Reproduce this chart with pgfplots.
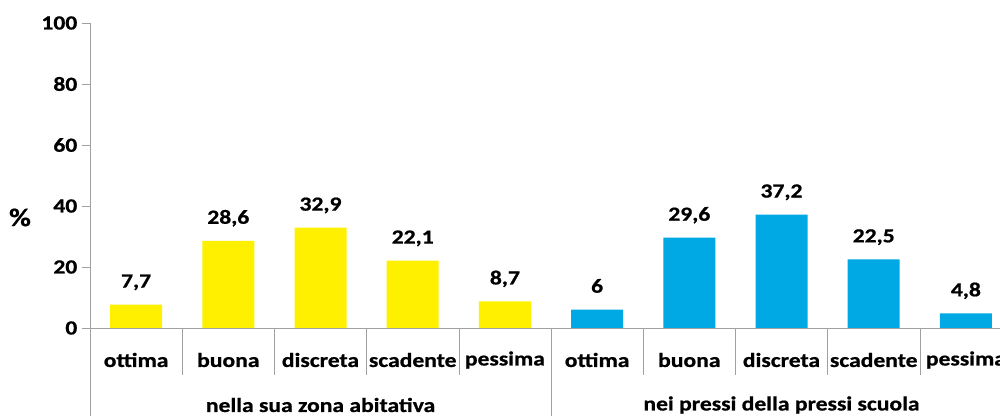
\documentclass[border=0pt]{standalone}
\usepackage{fontspec}
\setmainfont{Carlito}[FakeStretch=1.18, BoldFeatures={FakeBold=0.8}]
\usepackage{pgfplots}
\pgfplotsset{compat=1.18}
\definecolor{ybarc}{RGB}{255,240,0}
\definecolor{bbarc}{RGB}{0,168,228}
\definecolor{axgray}{RGB}{160,160,160}
\newcommand{\cf}{\bfseries\fontsize{15}{17}\selectfont}
\begin{document}
\begin{tikzpicture}
\useasboundingbox (0,0) rectangle (750pt,312pt);
\clip (0,0) rectangle (750pt,312pt);
\begin{axis}[
  at={(67.5pt,66pt)}, anchor=south west,
  scale only axis, width=691.5pt, height=228.75pt,
  xmin=-0.5, xmax=9.5, ymin=0, ymax=100,
  axis x line=bottom, axis y line=left,
  axis line style={axgray, -},
  ytick={0,20,...,100},
  ytick style={axgray}, tick align=outside, major tick length=6pt,
  xtick={0,...,9},
  xticklabels={ottima,buona,discreta,scadente,pessima,ottima,buona,discreta,scadente,pessima},
  xtick style={draw=none},
  xticklabel style={anchor=center, yshift=-18pt},
  tick label style={font=\cf},
  /pgf/number format/assume math mode=true,
  /pgf/number format/use comma,
  /pgf/number format/1000 sep={},
  ybar, bar width=39pt,
  nodes near coords,
  every node near coord/.append style={font=\cf, anchor=base, yshift=12.75pt},
  clip=false,
]
\addplot[fill=ybarc, draw=none, bar shift=0pt] coordinates {(0,7.7) (1,28.6) (2,32.9) (3,22.1) (4,8.7)};
\addplot[fill=bbarc, draw=none, bar shift=0pt] coordinates {(5,6) (6,29.6) (7,37.2) (8,22.5) (9,4.8)};
\pgfplotsinvokeforeach{0.5,1.5,2.5,3.5,5.5,6.5,7.5,8.5}{
  \draw[axgray] (axis cs:#1,0) -- ([yshift=-35pt]axis cs:#1,0);
}
\pgfplotsinvokeforeach{-0.5,4.5,9.5}{
  \draw[axgray] (axis cs:#1,0) -- ([yshift=-70pt]axis cs:#1,0);
}
\node[font=\cf] at ([yshift=-57.75pt]axis cs:2,0) {nella sua zona abitativa};
\node[font=\cf] at ([yshift=-57.75pt]axis cs:7,0) {nei pressi della pressi scuola};
\end{axis}
\node[font=\bfseries\fontsize{19}{21}\selectfont] at (15pt,148.9pt) {\%};
\end{tikzpicture}
\end{document}
